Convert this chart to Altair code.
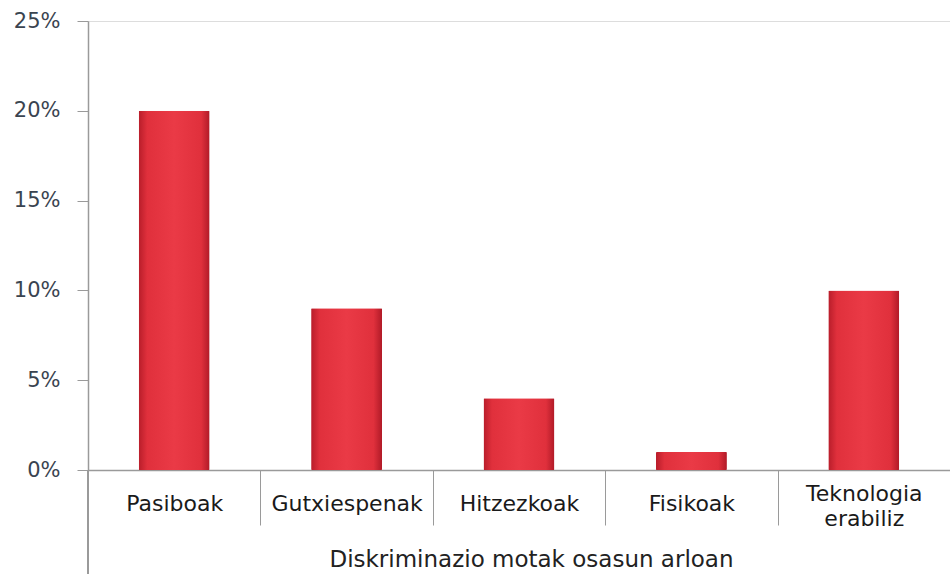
import altair as alt
import pandas as pd

categories = ["Pasiboak", "Gutxiespenak", "Hitzezkoak", "Fisikoak", "Teknologia erabiliz"]
values = [20, 9, 4, 1, 10]
y_ticks = [0, 5, 10, 15, 20, 25]

df = pd.DataFrame({"cat": categories, "val": values})

W, H = 862, 449

grad = alt.Gradient(
    gradient="linear",
    x1=0, x2=1, y1=0, y2=0,
    stops=[
        alt.GradientStop(color="#b81d2a", offset=0),
        alt.GradientStop(color="#e0303c", offset=0.12),
        alt.GradientStop(color="#ea3a46", offset=0.5),
        alt.GradientStop(color="#e0303c", offset=0.88),
        alt.GradientStop(color="#b01a27", offset=1),
    ],
)

x_enc = alt.X(
    "cat:N",
    sort=categories,
    scale=alt.Scale(paddingInner=0, paddingOuter=0),
    axis=alt.Axis(
        title="Diskriminazio motak osasun arloan",
        titleFont="DejaVu Sans",
        titleFontSize=23,
        titleFontWeight="normal",
        titleColor="#222222",
        titlePadding=19,
        titleX=443,
        labelAngle=0,
        labelFont="DejaVu Sans",
        labelFontSize=22,
        labelColor="#1a1a1a",
        labelBaseline="middle",
        labelPadding={
            "condition": {"test": "indexof(datum.label, ' ') >= 0", "value": -32},
            "value": -22,
        },
        labelExpr="split(datum.label, ' ')",
        labelLineHeight=25,
        tickBand="extent",
        tickSize=55,
        tickColor="#9a9a9a",
        domainColor="#9a9a9a",
        domainWidth=1.5,
    ),
)

y_enc = alt.Y(
    "val:Q",
    scale=alt.Scale(domain=[0, 25], nice=False),
    axis=alt.Axis(
        title=None,
        values=y_ticks,
        labelExpr="datum.value + '%'",
        labelFont="DejaVu Sans",
        labelFontSize=21,
        labelColor="#3a4450",
        labelPadding=17,
        tickSize=11,
        tickColor="#9a9a9a",
        domainColor="#9a9a9a",
        domainWidth=1.5,
        grid=False,
    ),
)

bars = alt.Chart(df).mark_bar(width=71, color=grad, cornerRadius=1).encode(
    x=x_enc, y=y_enc
)

ext = alt.Chart(df).mark_rule(color="#9a9a9a", strokeWidth=1.5).encode(
    x=alt.value(0), y=alt.value(H), y2=alt.value(H + 110)
)

chart = (
    alt.layer(bars, ext)
    .properties(
        width=W,
        height=H,
        autosize=alt.AutoSizeParams(type="none"),
        padding={"left": 88, "top": 21, "right": 0, "bottom": 104},
    )
    .configure_view(stroke=None)
    .configure(background="white")
)

chart.save("out.html", embed_options={"renderer": "svg", "actions": False})
